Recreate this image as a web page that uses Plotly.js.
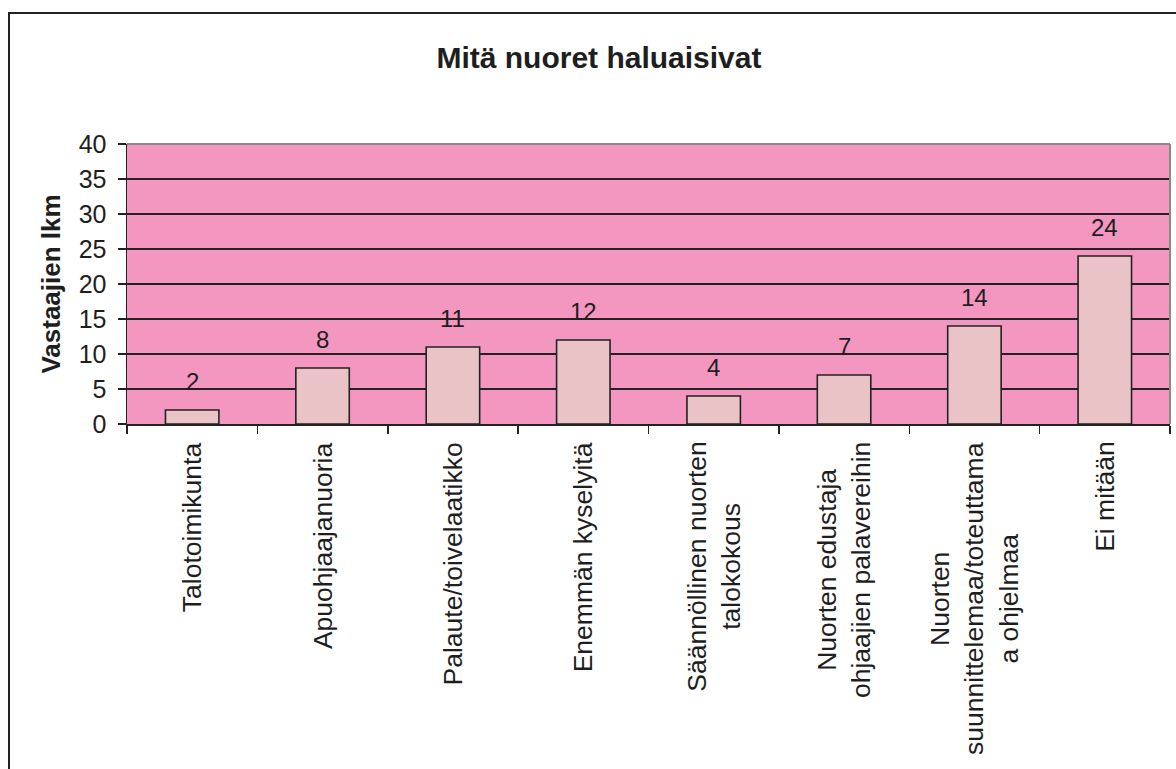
<!DOCTYPE html>
<html>
<head>
<meta charset="utf-8">
<script src="https://cdn.plot.ly/plotly-3.0.1.min.js"></script>
<style>
html,body{margin:0;padding:0;background:#fff;}
#wrap{position:relative;width:1176px;height:769px;overflow:hidden;}
#chart{position:absolute;left:0;top:0;width:1176px;height:769px;}
#frame{position:absolute;left:8px;top:12px;width:1300px;height:900px;border-top:2.5px solid #222;border-left:2.5px solid #222;pointer-events:none;}
</style>
</head>
<body>
<div id="wrap"><div id="chart"></div><div id="frame"></div></div>
<script>
var categories = ["Talotoimikunta","Apuohjaajanuoria","Palaute/toivelaatikko","Enemmän kyselyitä","Säännöllinen nuorten talokokous","Nuorten edustaja ohjaajien palavereihin","Nuorten suunnittelemaa/toteuttama a ohjelmaa","Ei mitään"];
var categoryLabels = ["Talotoimikunta","Apuohjaajanuoria","Palaute/toivelaatikko","Enemmän kyselyitä","Säännöllinen nuorten<br>talokokous","Nuorten edustaja<br>ohjaajien palavereihin","Nuorten<br>suunnittelemaa/toteuttama<br>a ohjelmaa","Ei mitään"];
var values = [2, 8, 11, 12, 4, 7, 14, 24];
var yTicks = [0, 5, 10, 15, 20, 25, 30, 35, 40];
var chartTitle = "Mitä nuoret haluaisivat";
var yTitle = "Vastaajien lkm";

var FONT = "Liberation Sans, Arial, sans-serif";
var annotations = [];
for (var i = 0; i < categories.length; i++) {
  annotations.push({
    x: categories[i], y: values[i], xref: 'x', yref: 'y',
    text: String(values[i]), showarrow: false,
    xanchor: 'center', yanchor: 'bottom', yshift: 13,
    font: {family: FONT, size: 24, color: '#1e1e1e'}
  });
  annotations.push({
    x: categories[i], y: 0, xref: 'x', yref: 'paper',
    text: categoryLabels[i], showarrow: false, textangle: -90,
    xanchor: 'center', yanchor: 'top', yshift: -16, align: 'center',
    font: {family: FONT, size: 26.5, color: '#1e1e1e'}
  });
}

var trace = {
  type: 'bar', x: categories, y: values,
  marker: {color: '#E9C3C6', line: {color: '#222', width: 1.6}},
  hoverinfo: 'skip'
};

var layout = {
  width: 1176, height: 769,
  margin: {l: 127, r: 6, t: 144, b: 345, pad: 0},
  paper_bgcolor: '#ffffff', plot_bgcolor: '#F497C0',
  showlegend: false, bargap: 0.59,
  title: {text: '<b>' + chartTitle + '</b>', font: {family: FONT, size: 30, color: '#1e1e1e'},
          xref: 'paper', x: 0.4525, xanchor: 'center', yref: 'container', y: 0.925, yanchor: 'middle'},
  xaxis: {type: 'category', showticklabels: false, tickson: 'boundaries', ticks: 'outside',
          ticklen: 8, tickcolor: '#222', tickwidth: 1.5, showline: true, linecolor: '#222', linewidth: 1.5,
          showgrid: false, zeroline: false, fixedrange: true},
  yaxis: {range: [0, 40], tickvals: yTicks, ticktext: yTicks.map(String), ticks: 'outside', ticklen: 8,
          tickcolor: '#222', tickwidth: 1.5, showline: true, linecolor: '#222', linewidth: 1.5,
          showgrid: true, gridcolor: '#222', gridwidth: 1.3, zeroline: false, ticklabelstandoff: 6,
          tickfont: {family: FONT, size: 25, color: '#1e1e1e'},
          title: {text: '<b>' + yTitle + '</b>', font: {family: FONT, size: 26, color: '#1e1e1e'}, standoff: 10},
          fixedrange: true},
  shapes: [
    {type: 'line', xref: 'paper', yref: 'paper', x0: 0, x1: 1, y0: 1, y1: 1, line: {color: '#8a8a8a', width: 2}, layer: 'above'},
    {type: 'line', xref: 'paper', yref: 'paper', x0: 1, x1: 1, y0: 0, y1: 1, line: {color: '#8a8a8a', width: 2}, layer: 'above'}
  ],
  annotations: annotations
};

Plotly.newPlot('chart', [trace], layout, {staticPlot: true, displayModeBar: false});
</script>
</body>
</html>
